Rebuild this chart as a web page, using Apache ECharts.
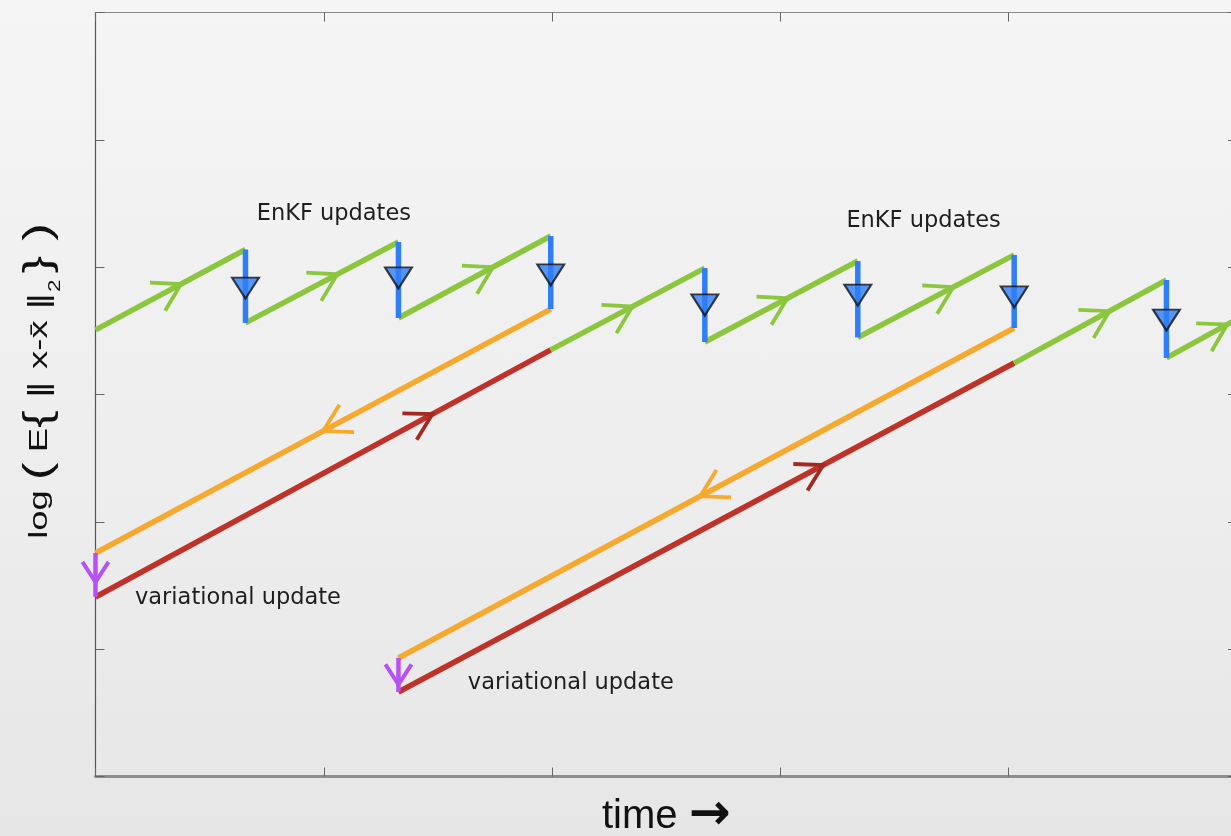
<!DOCTYPE html>
<html><head><meta charset="utf-8">
<script src="https://cdn.jsdelivr.net/npm/echarts@6/dist/echarts.min.js"></script>
<style>
html,body{margin:0;padding:0;}
#c{width:1231px;height:836px;background:linear-gradient(180deg,#f5f5f5 0%,#ededed 60%,#e6e6e6 100%);}
</style>
</head><body><div id="c"></div>
<script>
// ---- data (axis units: x = time ticks 0..5, y = log error ticks 0..6) ----
const xTicks = [0, 1, 2, 3, 4, 5];
const yTicks = [0, 1, 2, 3, 4, 5, 6];

// green: forecast segments between EnKF updates
const forecastSegments = [
  [[0.000, 3.507], [0.657, 4.139]],
  [[0.657, 3.562], [1.327, 4.198]],
  [[1.327, 3.601], [1.994, 4.245]],
  [[1.994, 3.350], [2.669, 3.993]],
  [[2.669, 3.412], [3.339, 4.048]],
  [[3.339, 3.448], [4.024, 4.096]],
  [[4.024, 3.247], [4.691, 3.899]],
  [[4.691, 3.287], [5.000, 3.593]]
];
const forecastArrowFrac = [0.57, 0.60, 0.62, 0.53, 0.54, 0.61, 0.625, 0.86];

// blue: EnKF updates [time, before, after]
const enkfUpdates = [
  [0.657, 4.139, 3.562],
  [1.327, 4.198, 3.601],
  [1.994, 4.245, 3.671],
  [2.669, 3.993, 3.412],
  [3.339, 4.048, 3.448],
  [4.024, 4.096, 3.522],
  [4.691, 3.899, 3.287]
];
const enkfMarkerY = [3.836, 3.915, 3.939, 3.703, 3.781, 3.766, 3.585];

// orange: backward (smoother) segments
const smootherSegments = [
  [[1.994, 3.671], [0.000, 1.755]],
  [[4.024, 3.522], [1.327, 0.931]]
];
const smootherArrowFrac = [0.50, 0.51];

// purple: variational updates
const variationalUpdates = [
  [[0.000, 1.755], [0.000, 1.410]],
  [[1.327, 0.931], [1.327, 0.664]]
];
const variationalUpdateArrowFrac = [0.66, 0.78];

// red: forecast after variational update
const variationalForecast = [
  [[0.000, 1.410], [1.994, 3.350]],
  [[1.327, 0.664], [4.024, 3.247]]
];
const variationalForecastArrowFrac = [0.74, 0.69];
</script>
<script>
const C = {
  green: '#8cc63f', blue: '#2f7ef6', orange: '#f6a92f', red: '#bf3229',
  redArrow: '#a22a22', purple: '#b652f4'
};
const chart = echarts.init(document.getElementById('c'), null, {renderer: 'canvas'});

function segLine(seg, color, width, z) {
  return {
    type: 'line', data: seg, symbol: 'none', clip: false, silent: true,
    lineStyle: {color: color, width: width, cap: 'butt'}, z: z, animation: false
  };
}
function arrowSeries(segs, fracs, color, armLen, halfAngle, width, z) {
  const data = segs.map((s, i) => [s[0][0], s[0][1], s[1][0], s[1][1], fracs[i]]);
  return {
    type: 'custom', data: data, clip: false, silent: true, z: z, animation: false,
    encode: {x: [0, 2], y: [1, 3]},
    renderItem: function (params, api) {
      const p1 = api.coord([api.value(0), api.value(1)]);
      const p2 = api.coord([api.value(2), api.value(3)]);
      const t = api.value(4);
      const ax = p1[0] + t * (p2[0] - p1[0]);
      const ay = p1[1] + t * (p2[1] - p1[1]);
      const dx = p2[0] - p1[0], dy = p2[1] - p1[1];
      const L = Math.sqrt(dx * dx + dy * dy);
      const bx = -dx / L, by = -dy / L;
      const a = halfAngle * Math.PI / 180;
      const r1 = [bx * Math.cos(a) - by * Math.sin(a), bx * Math.sin(a) + by * Math.cos(a)];
      const r2 = [bx * Math.cos(-a) - by * Math.sin(-a), bx * Math.sin(-a) + by * Math.cos(-a)];
      return {
        type: 'polyline',
        shape: {points: [[ax + r1[0] * armLen, ay + r1[1] * armLen], [ax, ay], [ax + r2[0] * armLen, ay + r2[1] * armLen]]},
        style: {stroke: color, lineWidth: width, fill: null, lineJoin: 'miter'}
      };
    }
  };
}

const series = [];
forecastSegments.forEach(s => series.push(segLine(s, C.green, 5.5, 3)));
enkfUpdates.forEach(u => series.push(segLine([[u[0], u[1]], [u[0], u[2]]], C.blue, 5.5, 4)));
smootherSegments.forEach(s => series.push(segLine(s, C.orange, 5.5, 2)));
variationalForecast.forEach(s => series.push(segLine(s, C.red, 5.5, 2)));
variationalUpdates.forEach(s => series.push(segLine(s, C.purple, 4.5, 4)));
series.push(arrowSeries(forecastSegments, forecastArrowFrac, C.green, 31, 31, 3.8, 5));
series.push(arrowSeries(smootherSegments, smootherArrowFrac, C.orange, 31, 30, 3.8, 5));
series.push(arrowSeries(variationalForecast, variationalForecastArrowFrac, C.redArrow, 30, 30, 3.8, 5));
series.push(arrowSeries(variationalUpdates, variationalUpdateArrowFrac, C.purple, 24, 33, 4, 5));
series.push({
  type: 'scatter', data: enkfUpdates.map((u, i) => [u[0], enkfMarkerY[i]]),
  symbol: 'triangle', symbolSize: [27, 21], symbolRotate: 180, clip: false, silent: true,
  itemStyle: {color: C.blue, borderColor: '#111', borderWidth: 2}, z: 6, animation: false
});
// annotations
const notes = [
  {text: 'EnKF updates', pos: [1.044, 4.418], align: 'center'},
  {text: 'EnKF updates', pos: [3.627, 4.363], align: 'center'},
  {text: 'variational update', pos: [0.173, 1.402], align: 'left'},
  {text: 'variational update', pos: [1.631, 0.736], align: 'left'}
];
series.push({
  type: 'custom', data: notes.map((n, i) => [n.pos[0], n.pos[1], i]), clip: false, silent: true,
  z: 7, animation: false,
  renderItem: function (params, api) {
    const n = notes[api.value(2)];
    const p = api.coord([api.value(0), api.value(1)]);
    return {type: 'text', x: p[0], y: p[1],
      style: {text: n.text, font: '22.5px "DejaVu Sans"', fill: '#1e1e1e', align: n.align, verticalAlign: 'middle'}};
  }
});

const tickCommon = {show: true, inside: true, length: 9, lineStyle: {color: '#666', width: 1}};
chart.setOption({
  animation: false,
  grid: {left: 95.5, top: 12.5, right: -6, bottom: 59.5, containLabel: false, outerBoundsMode: 'none'},
  graphic: [{
    type: 'text', x: 40, y: 381, rotation: Math.PI / 2, scaleX: 1.4, scaleY: 1, silent: true, z: 10,
    style: {
      text: '{l|log }{p|(}{e| E}{{v| \u2016 }{e|x-x\u0304 }{v|\u2016}{s|2 }} {p|)}',
      fontFamily: 'Liberation Sans', fontSize: 38, fill: '#111', lineHeight: 48,
      align: 'center', verticalAlign: 'middle',
      rich: {l: {fontFamily: 'Liberation Sans', fontSize: 26, fill: '#111', lineHeight: 48},
             p: {fontFamily: 'Liberation Sans', fontSize: 38, fill: '#111', lineHeight: 48},
             e: {fontFamily: 'Liberation Sans', fontSize: 26, fill: '#111', lineHeight: 48},
             v: {fontFamily: 'DejaVu Sans', fontSize: 26, fill: '#111', lineHeight: 48},
             s: {fontFamily: 'Liberation Sans', fontSize: 16, fill: '#111', lineHeight: 48, verticalAlign: 'bottom'}}
    }
  }],
  xAxis: [
    {type: 'value', position: 'bottom', min: xTicks[0], max: xTicks[xTicks.length - 1], interval: 1,
     axisLine: {show: true, onZero: false, lineStyle: {color: '#8e8e8e', width: 3}},
     axisTick: tickCommon, axisLabel: {show: false}, splitLine: {show: false},
     name: 'time {a|\u2192}', nameLocation: 'middle', nameGap: 18,
     nameTextStyle: {fontFamily: 'Liberation Sans', fontSize: 40, color: '#111', lineHeight: 44,
       rich: {a: {fontFamily: 'DejaVu Sans', fontSize: 50, fontWeight: 'bold', color: '#111', lineHeight: 44}}}},
    {type: 'value', position: 'top', min: xTicks[0], max: xTicks[xTicks.length - 1], interval: 1,
     axisLine: {show: true, onZero: false, lineStyle: {color: '#8a8a8a', width: 1.2}},
     axisTick: tickCommon, axisLabel: {show: false}, splitLine: {show: false}}
  ],
  yAxis: [
    {type: 'value', position: 'left', min: yTicks[0], max: yTicks[yTicks.length - 1], interval: 1,
     axisLine: {show: true, onZero: false, lineStyle: {color: '#555', width: 1.2}},
     axisTick: tickCommon, axisLabel: {show: false}, splitLine: {show: false}},
    {type: 'value', position: 'right', min: yTicks[0], max: yTicks[yTicks.length - 1], interval: 1,
     axisLine: {show: true, onZero: false, lineStyle: {color: '#888', width: 1.2}},
     axisTick: tickCommon, axisLabel: {show: false}, splitLine: {show: false}}
  ],
  series: series
});
</script>
</body></html>
